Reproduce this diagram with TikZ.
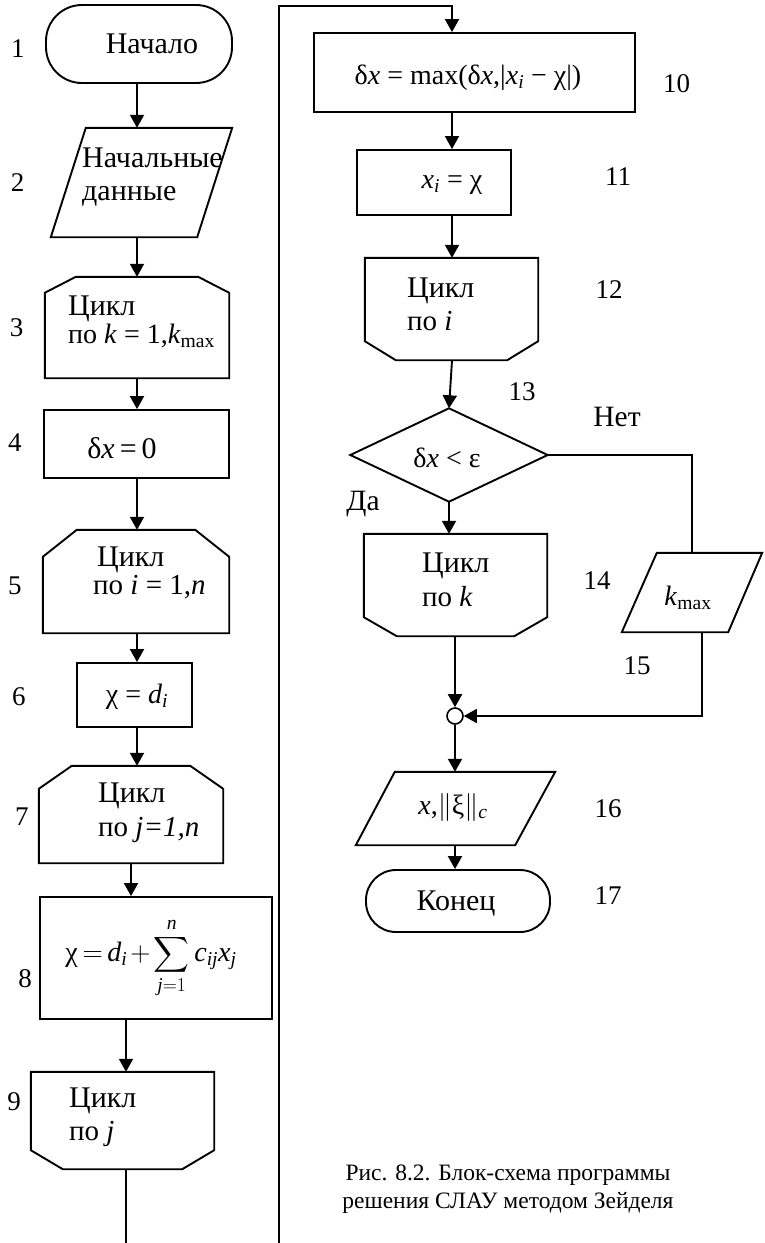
\RequirePackage{fix-cm}
\documentclass[tikz,border=0pt]{standalone}
\usepackage{amsmath}
\usepackage{fontspec}
\setmainfont{Liberation Serif}
\usetikzlibrary{arrows.meta,calc}
\newcommand\CycTop[3]{\draw[ln] (#1.south west) -- ($(#1.north west)+(0,#3)$) -- ($(#1.north west)+(#2,0)$) -- ($(#1.north east)+(-#2,0)$) -- ($(#1.north east)+(0,#3)$) -- (#1.south east) -- cycle;}
\newcommand\CycBot[3]{\draw[ln] (#1.north west) -- (#1.north east) -- ($(#1.south east)+(0,-#3)$) -- ($(#1.south east)+(-#2,0)$) -- ($(#1.south west)+(#2,0)$) -- ($(#1.south west)+(0,-#3)$) -- cycle;}
\newcommand\ParaBox[3]{\draw[ln] ($(#1.north west)+(#2,0)$) -- (#1.north east) -- ($(#1.south east)+(-#3,0)$) -- (#1.south west) -- cycle;}
\begin{document}
\begin{tikzpicture}[x=1pt,y=-1pt,
  ln/.style={line width=1.9pt},
  thinln/.style={line width=1.5pt},
  arr/.style={line width=1.9pt,-{Triangle[length=13pt,width=14pt]}},
  tarr/.style={line width=1.5pt,-{Triangle[length=13pt,width=14pt]}},
  blk/.style={rectangle,draw=none,inner sep=0pt},
  txt/.style={inner sep=0pt,font=\fontsize{30}{35}\selectfont},
  mix/.style={inner sep=0pt,font=\fontsize{29}{34}\selectfont},
  frm/.style={inner sep=0pt,font=\fontsize{28}{33}\selectfont},
  lbl/.style={inner sep=0pt,font=\fontsize{27}{31}\selectfont},
  wlbl/.style={inner sep=0pt,font=\fontsize{29.5}{34}\selectfont},
  capt/.style={inner sep=0pt,font=\fontsize{23.5}{28}\selectfont}]
\useasboundingbox[fill=white] (0,0) rectangle (765,1243);

% ---------- left column ----------
\node[blk,draw,ln,rounded corners=36pt,minimum width=186pt,minimum height=78pt] (b1) at (139,44) {};
\node[txt] (t1) at (152,44) {Начало};

\node[blk,minimum width=181pt,minimum height=109pt] (b2) at (141.5,182.5) {};
\ParaBox{b2}{35}{35}
\node[txt,anchor=base west] (t2a) at (82,167) {Начальные};
\node[txt,anchor=base west] (t2b) at (82,200) {данные};

\node[blk,minimum width=184pt,minimum height=101pt] (b3) at (137,327.5) {};
\CycTop{b3}{31}{16}
\node[txt,anchor=base west] (t3a) at (68,315) {Цикл};
\node[frm,anchor=base west] (t3b) at (68,343) {по \textit{k} = 1,\textit{k}\textsubscript{max}};

\node[blk,draw,ln,minimum width=185pt,minimum height=68pt] (b4) at (136.5,444) {};
\node[txt] (t4) at (122,448) {δ\textit{x}\,=\,0};

\node[blk,minimum width=186pt,minimum height=103pt] (b5) at (136,581.5) {};
\CycTop{b5}{34}{27}
\node[txt,anchor=base west] (t5a) at (97,566) {Цикл};
\node[mix,anchor=base west] (t5b) at (93,594) {по \textit{i} = 1,\textit{n}};

\node[blk,draw,ln,minimum width=115pt,minimum height=64pt] (b6) at (134.5,695) {};
\node[frm] (t6) at (137,697) {χ = \textit{d}\textsubscript{\textit{i}}};

\node[blk,minimum width=184pt,minimum height=97pt] (b7) at (131,814.5) {};
\CycTop{b7}{33}{23}
\node[txt,anchor=base west] (t7a) at (98,802) {Цикл};
\node[mix,anchor=base west] (t7b) at (98,836) {по \textit{j=1,n}};

\node[blk,draw,ln,minimum width=232pt,minimum height=122pt] (b8) at (156,958) {};
\node[frm] (t8) at (151,958) {\medmuskip=2mu\thickmuskip=3mu$\displaystyle \text{χ} = \textit{d}_{\textit{i}} + \sum_{\textit{j}=1}^{\textit{n}} \textit{c}_{\textit{ij}}\textit{x}_{\textit{j}}$};

\node[blk,minimum width=183pt,minimum height=97pt] (b9) at (122.5,1120.5) {};
\CycBot{b9}{32}{19}
\node[txt,anchor=base west] (t9a) at (69,1107) {Цикл};
\node[mix,anchor=base west] (t9b) at (69,1140) {по \textit{j}};

\node[lbl] (l1) at (18,49) {1};
\node[lbl] (l2) at (17.5,183) {2};
\node[lbl] (l3) at (16.5,328) {3};
\node[lbl] (l4) at (15,443) {4};
\node[lbl] (l5) at (15,586) {5};
\node[lbl] (l6) at (19,697) {6};
\node[lbl] (l7) at (22,817) {7};
\node[lbl] (l8) at (25,979) {8};
\node[lbl] (l9) at (14,1102) {9};

\draw[arr] (137,0 |- b1.south) -- (137,0 |- b2.north);
\draw[arr] (137,0 |- b2.south) -- (137,0 |- b3.north);
\draw[arr] (137,0 |- b3.south) -- (137,0 |- b4.north);
\draw[arr] (137,0 |- b4.south) -- (137,0 |- b5.north);
\draw[arr] (137,0 |- b5.south) -- (137,0 |- b6.north);
\draw[arr] (137,0 |- b6.south) -- (137,0 |- b7.north);
\draw[arr] (131,0 |- b7.south) -- (131,0 |- b8.north);
\draw[arr] (126,0 |- b8.south) -- (126,0 |- b9.north);
\coordinate (e9) at (126,1243);
\draw[ln] (126,0 |- b9.south) -- (e9);

% ---------- return line ----------
\coordinate (r0) at (279,1243);
\coordinate (rt) at (279,6);

% ---------- right column ----------
\node[blk,draw,ln,minimum width=321pt,minimum height=79pt] (b10) at (474.5,72.5) {};
\node[frm] (t10) at (468,78) {δ\textit{x} = max(δ\textit{x},|\textit{x}\textsubscript{\textit{i}} − χ|)};

\node[blk,draw,ln,minimum width=154pt,minimum height=65pt] (b11) at (434,182.5) {};
\node[frm] (t11) at (452,185) {\textit{x}\textsubscript{\textit{i}} = χ};

\node[blk,minimum width=173pt,minimum height=102pt] (b12) at (451.5,309) {};
\CycBot{b12}{31}{19}
\node[txt,anchor=base west] (t12a) at (407,297) {Цикл};
\node[mix,anchor=base west] (t12b) at (407,330) {по \textit{i}};

\node[blk,minimum width=197pt,minimum height=93pt] (b13) at (449,455) {};
\draw[ln] (b13.north) -- (b13.east) -- (b13.south) -- (b13.west) -- cycle;
\node[frm] (t13) at (447,458) {δ\textit{x} < ε};

\node[blk,minimum width=183pt,minimum height=102pt] (b14) at (455.5,585) {};
\CycBot{b14}{33}{19}
\node[txt,anchor=base west] (t14a) at (422,572) {Цикл};
\node[mix,anchor=base west] (t14b) at (422,606) {по \textit{k}};

\node[blk,minimum width=140pt,minimum height=79pt] (b15) at (692,592.5) {};
\ParaBox{b15}{35}{34}
\node[frm] (t15) at (688,598) {\textit{k}\textsubscript{max}};

\node[circle,draw,line width=1.6pt,minimum size=16pt,inner sep=0pt] (c) at (455,716) {};

\node[blk,minimum width=199pt,minimum height=73pt] (b16) at (455.5,808.5) {};
\ParaBox{b16}{39}{40}
\node[frm] (t16) at (453,807) {\textit{x},$\|$ξ$\|$\textsubscript{\textit{c}}};

\node[blk,draw,ln,rounded corners=30pt,minimum width=184pt,minimum height=62pt] (b17) at (458,901) {};
\node[txt] (t17) at (456,904) {Конец};

\node[lbl] (l10) at (676.5,84) {10};
\node[lbl] (l11) at (618,177) {11};
\node[lbl] (l12) at (609,290) {12};
\node[lbl] (l13) at (522,392) {13};
\node[wlbl] (lno) at (617,417) {Нет};
\node[wlbl] (lyes) at (363,504) {Да};
\node[lbl] (l14) at (597,581) {14};
\node[lbl] (l15) at (637,666) {15};
\node[lbl] (l16) at (608,809) {16};
\node[lbl] (l17) at (608,896) {17};

\draw[arr] (r0) -- (rt) -| (452,0 |- b10.north);
\draw[arr] (452,0 |- b10.south) -- (452,0 |- b11.north);
\draw[arr] (452,0 |- b11.south) -- (452,0 |- b12.north);
\draw[arr] (452,0 |- b12.south) -- (b13.north);
\draw[arr] (b13.south) -- (449,0 |- b14.north);
\draw[thinln] (b13.east) -| (b15.north);
\draw[tarr] (702,0 |- b15.south) |- (c.east);
\draw[arr] (455,0 |- b14.south) -- (c.north);
\draw[arr] (c.south) -- (455,0 |- b16.north);
\draw[arr] (455,0 |- b16.south) -- (455,0 |- b17.north);

\node[capt,anchor=base] (cap1) at (508,1180) {Рис. 8.2. Блок-схема программы};
\node[capt,anchor=base] (cap2) at (508,1208) {решения СЛАУ методом Зейделя};
\end{tikzpicture}
\end{document}
